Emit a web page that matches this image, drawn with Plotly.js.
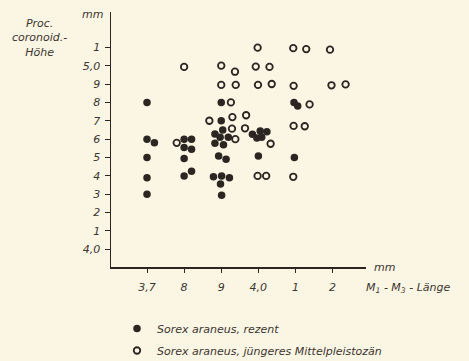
<!DOCTYPE html>
<html>
<head>
<meta charset="utf-8">
<script src="https://cdn.plot.ly/plotly-3.0.1.min.js"></script>
<style>
html,body{margin:0;padding:0;background:#fbf5e3;}
#chart{width:469px;height:361px;}
</style>
</head>
<body>
<div id="chart"></div>
<script>
// ---- data (M1-M3 length in mm, Proc. coronoid height in mm) ----
const rezentX = [3.70,3.70,3.72,3.70,3.70,3.70,
  3.80,3.82,3.80,3.82,3.80,3.80,3.82,
  3.90,3.90,3.883,3.904,3.897,3.919,3.883,3.906,3.893,3.913,3.879,3.901,3.922,3.898,3.901,
  3.984,4.005,4.023,4.009,3.996,4.00,
  4.096,4.106,4.097];
const rezentY = [4.80,4.60,4.58,4.50,4.39,4.30,
  4.60,4.60,4.555,4.545,4.495,4.40,4.425,
  4.80,4.70,4.628,4.65,4.61,4.61,4.577,4.57,4.508,4.49,4.395,4.40,4.39,4.356,4.294,
  4.626,4.644,4.64,4.61,4.606,4.508,
  4.80,4.78,4.50];

const pleistX = [3.80,3.78,
  3.90,3.937,3.90,3.939,3.926,3.868,3.93,3.967,3.929,3.964,3.938,
  3.998,4.094,4.129,4.193,3.993,4.03,3.999,4.036,4.095,4.197,4.235,4.138,4.095,4.125,4.033,3.998,4.021,4.094];
const pleistY = [4.993,4.58,
  5.00,4.967,4.895,4.895,4.80,4.70,4.72,4.73,4.657,4.659,4.60,
  5.098,5.095,5.09,5.087,4.995,4.993,4.895,4.90,4.89,4.893,4.898,4.789,4.672,4.67,4.575,4.40,4.40,4.395];

const seriesNames = ["Sorex araneus, rezent", "Sorex araneus, jüngeres Mittelpleistozän"];

const xTickVals = [3.7,3.8,3.9,4.0,4.1,4.2];
const xTickText = ["3,7","8","9","4,0","1","2"];
const yTickVals = [4.0,4.1,4.2,4.3,4.4,4.5,4.6,4.7,4.8,4.9,5.0,5.1];
const yTickText = ["4,0","1","2","3","4","5","6","7","8","9","5,0","1"];

// ---- layout helpers ----
const W = 469, H = 361;
const L = 111, R = 366, T = 12, B = 267;
const px = x => (x - L) / (R - L);
const py = y => (B - y) / (B - T);
const ink = "#2b2622";
const txt = "#3b3531";
const fnt = {family: "DejaVu Sans", size: 11, color: txt, style: "italic"};

const traces = [
  {type: "scatter", mode: "markers", name: seriesNames[0], legendgroup: "a", x: rezentX, y: rezentY,
   marker: {symbol: "circle", size: 7.5, color: ink, line: {width: 0}}},
  {type: "scatter", mode: "markers", name: seriesNames[1], legendgroup: "b", x: pleistX, y: pleistY,
   marker: {symbol: "circle-open", size: 6.5, color: ink, line: {width: 1.8, color: ink}}}
];

const layout = {
  width: W, height: H,
  paper_bgcolor: "#fbf5e3", plot_bgcolor: "#fbf5e3",
  margin: {l: L, r: W - R, t: T, b: H - B, pad: 0, autoexpand: false},
  font: fnt,
  showlegend: true,
  legend: {xref: "container", yref: "container", x: 117 / W, y: 1 - 314 / H,
    xanchor: "left", yanchor: "top", traceorder: "grouped", tracegroupgap: 3,
    bgcolor: "rgba(0,0,0,0)", font: fnt, itemwidth: 30},
  xaxis: {range: [3.603, 4.290], tickvals: xTickVals, ticktext: xTickText,
    showgrid: false, zeroline: false, showline: true, linecolor: ink, linewidth: 1.5,
    ticks: "outside", ticklen: 4, tickcolor: ink, tickwidth: 1, tickfont: fnt,
    ticklabelstandoff: 5},
  yaxis: {range: [3.904, 5.292], tickvals: yTickVals, ticktext: yTickText,
    showgrid: false, zeroline: false, showline: true, linecolor: ink, linewidth: 1.5,
    ticks: "outside", ticklen: 5, tickcolor: ink, tickwidth: 1, tickfont: fnt,
    ticklabelstandoff: 2},
  annotations: [
    {xref: "paper", yref: "paper", x: px(39), y: py(38), text: "Proc.<br>coronoid.-<br>Höhe",
     showarrow: false, align: "center", xanchor: "center", yanchor: "middle", font: fnt},
    {xref: "paper", yref: "paper", x: px(92), y: py(15), text: "mm",
     showarrow: false, xanchor: "center", yanchor: "middle", font: fnt},
    {xref: "paper", yref: "paper", x: px(372), y: py(267), text: "mm",
     showarrow: false, xanchor: "left", yanchor: "middle", font: fnt},
    {xref: "paper", yref: "paper", x: px(364), y: py(288), text: "M<sub>1</sub> - M<sub>3</sub> - Länge",
     showarrow: false, xanchor: "left", yanchor: "middle", font: fnt}
  ]
};

Plotly.newPlot("chart", traces, layout, {staticPlot: true, displayModeBar: false});
</script>
</body>
</html>
